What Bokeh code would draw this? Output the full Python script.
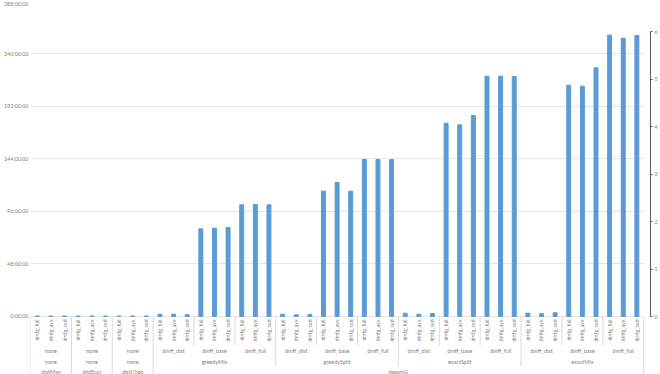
import math
from bokeh.plotting import figure
from bokeh.models import Range1d, LinearAxis, FixedTicker
from bokeh.core.properties import value
from bokeh.embed import file_html
from bokeh.resources import INLINE

# ---------------- data ----------------
group_l1 = ["distMan", "distEucl", "distCheb"] + ["dseqmG"] * 12
group_l2 = ["none", "none", "none"] + ["greedyMix"] * 3 + ["greedySplit"] * 3 \
           + ["exactSplit"] * 3 + ["exactMix"] * 3
group_l3 = ["none", "none", "none"] + ["dmff_dist", "dmff_base", "dmff_full"] * 4
variants = ["dmfg_full", "dmfg_avx", "dmfg_sod"]

# hours per bar (15 groups x 3 variants)
hours = [
    0.4, 0.4, 0.4,          # distMan none none
    0.4, 0.4, 0.4,          # distEucl none none
    0.4, 0.4, 0.4,          # distCheb none none
    2.0, 2.0, 1.6,          # greedyMix dmff_dist
    80.2, 80.7, 81.4,       # greedyMix dmff_base
    102.1, 102.4, 102.1,    # greedyMix dmff_full
    2.1, 1.6, 1.8,          # greedySplit dmff_dist
    114.6, 122.5, 114.6,    # greedySplit dmff_base
    143.5, 143.5, 143.5,    # greedySplit dmff_full
    3.0, 2.1, 2.7,          # exactSplit dmff_dist
    176.7, 175.3, 183.8,    # exactSplit dmff_base
    219.7, 219.7, 219.4,    # exactSplit dmff_full
    3.0, 2.5, 3.4,          # exactMix dmff_dist
    211.5, 210.6, 227.4,    # exactMix dmff_base
    257.2, 254.4, 256.9,    # exactMix dmff_full
]

left_ticks = [0, 48, 96, 144, 192, 240, 288]
left_tick_labels = ["0:00:00", "48:00:00", "96:00:00", "144:00:00",
                    "192:00:00", "240:00:00", "288:00:00"]
right_ticks = [0, 1, 2, 3, 4, 5, 6]

# ---------------- derived per-bar categories ----------------
bar_l1, bar_l2, bar_l3, bar_l4 = [], [], [], []
for g in range(len(group_l1)):
    for v in variants:
        bar_l1.append(group_l1[g]); bar_l2.append(group_l2[g])
        bar_l3.append((g, group_l3[g])); bar_l4.append(v)
n = len(bar_l4)
bar_x = [i + 0.5 for i in range(n)]


def runs(keys, labels):
    out = []
    s = 0
    for i in range(1, n + 1):
        if i == n or keys[i] != keys[s]:
            out.append(((s + i) / 2.0, labels[s]))
            s = i
    return out


key1 = bar_l1
key2 = [(a, b) for a, b in zip(bar_l1, bar_l2)]
key3 = [(a, b, c) for a, b, c in zip(bar_l1, bar_l2, bar_l3)]
runs1 = runs(key1, bar_l1)
runs2 = runs(key2, bar_l2)
runs3 = runs(key3, [c[1] for c in bar_l3])

# label-area rows (in hours below zero)
Y_L4 = -2.7
Y_L3 = -32.0
Y_L2 = -41.2
Y_L1 = -50.8
SEP_L3 = -26.5
SEP_L2 = -45.7
SEP_L1 = -53.1

sep_x, sep_y1 = [], []
for k in range(n + 1):
    if k == 0 or k == n or key1[k] != key1[k - 1]:
        sep_x.append(k); sep_y1.append(SEP_L1)
    elif key2[k] != key2[k - 1]:
        sep_x.append(k); sep_y1.append(SEP_L2)
    elif key3[k] != key3[k - 1]:
        sep_x.append(k); sep_y1.append(SEP_L3)

FONT = "Lato"
TXT = "#7f7f7f"
GRID = "#e6e6e6"
SEP = "#d9d9d9"
BAR = "#5b9bd5"

p = figure(width=660, height=374, x_range=Range1d(0, n + 0.5), y_range=Range1d(-53.03, 288),
           output_backend="svg", toolbar_location=None, x_axis_location=None,
           min_border_top=1, min_border_left=24, min_border_right=10, min_border_bottom=0)
p.outline_line_color = None
p.xgrid.grid_line_color = None

# bars
p.vbar(x=bar_x, top=hours, width=0.29, color=BAR)

# left axis (time)
ya = p.yaxis[0]
ya.ticker = FixedTicker(ticks=left_ticks)
ya.bounds = (0, 288)
ya.major_label_overrides = {t: s for t, s in zip(left_ticks, left_tick_labels)}
ya.axis_line_color = None
ya.major_tick_line_color = None
ya.minor_tick_line_color = None
ya.major_tick_out = 0
ya.major_tick_in = 0
ya.minor_tick_out = 0
ya.major_label_text_font = FONT
ya.major_label_text_font_size = "5.4px"
ya.major_label_text_color = TXT
ya.major_label_standoff = 2

p.ygrid.ticker = FixedTicker(ticks=left_ticks)
p.ygrid.grid_line_color = GRID
try:
    p.ygrid.cross_bounds = (0, n)
except Exception:
    pass

# right axis
p.extra_y_ranges = {"right": Range1d(-1.221, 6.632)}
ra = LinearAxis(y_range_name="right", ticker=FixedTicker(ticks=right_ticks), bounds=(0, 6))
ra.axis_line_color = "#595959"
ra.major_tick_line_color = "#595959"
ra.major_tick_in = 0
ra.major_tick_out = 2
ra.minor_tick_line_color = None
ra.minor_tick_out = 0
ra.major_label_text_font = FONT
ra.major_label_text_font_size = "5.2px"
ra.major_label_text_color = TXT
ra.major_label_standoff = 2
p.add_layout(ra, "right")

# category separators
p.segment(x0=sep_x, y0=[0] * len(sep_x), x1=sep_x, y1=sep_y1, line_color=SEP, line_width=1)

# category labels
p.text(x=bar_x, y=[Y_L4] * n, text=bar_l4, angle=math.pi / 2,
       text_align="right", text_baseline="middle", text_font=value(FONT),
       text_font_size="5.2px", text_color=TXT)
for rr, yy in ((runs3, Y_L3), (runs2, Y_L2), (runs1, Y_L1)):
    p.text(x=[c for c, _ in rr], y=[yy] * len(rr), text=[t for _, t in rr],
           text_align="center", text_baseline="middle", text_font=value(FONT),
           text_font_size="5.5px", text_color=TXT)

open("out.html", "w").write(file_html(p, INLINE))
